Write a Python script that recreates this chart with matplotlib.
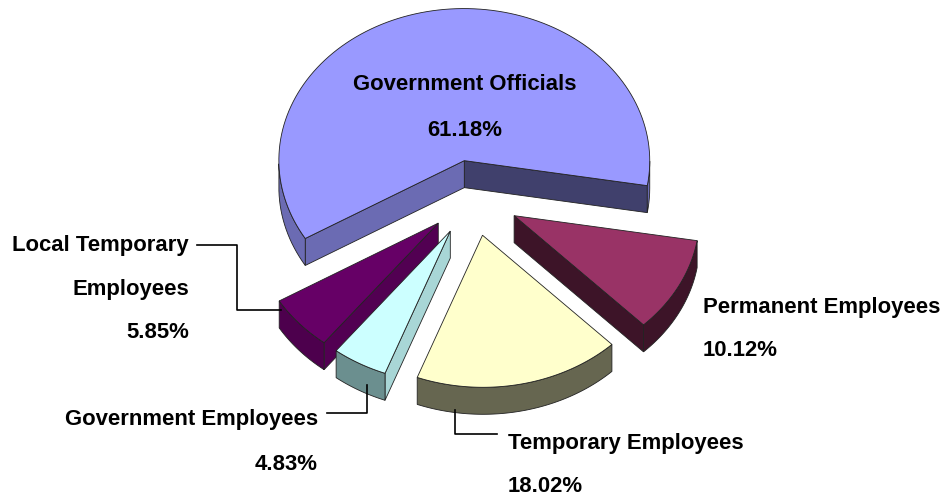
import numpy as np
import matplotlib.pyplot as plt
from matplotlib.patches import Polygon

# slice data, counter-clockwise from the right-hand edge
labels = ['Government Officials', 'Local Temporary Employees', 'Government Employees',
          'Temporary Employees', 'Permanent Employees']
values = [61.18, 5.85, 4.83, 18.02, 10.12]

top_colors = ['#9999ff', '#660066', '#ccffff', '#ffffcc', '#993366']
rim_colors = ['#6b6bb3', '#4d004d', '#6b8f8f', '#666650', '#3d1428']
start_wall = ['#40406c', '#520052', '#6b8f8f', '#666650', '#3d1428']
end_wall = ['#6b6bb3', '#520052', '#a8d6d6', '#666650', '#3d1428']
draw_order = [0, 4, 1, 2, 3]

# projected pie geometry (pixels): centre, axis vectors, explode, depth
C = np.array([473.0, 198.0])
a1 = np.array([183.0, 25.0])
a2 = np.array([30.0, -150.0])
explode = 0.25
depth = 27.0


def rim(t):
    t = np.radians(t)
    return np.outer(np.cos(t), a1) + np.outer(np.sin(t), a2)


fig = plt.figure(figsize=(9.44, 5.0), dpi=100)
ax = fig.add_axes([0, 0, 1, 1])
ax.set_xlim(0, 944)
ax.set_ylim(500, 0)
ax.axis('off')

bounds = np.concatenate([[0], np.cumsum(values) / np.sum(values) * 360])
t_front = np.degrees(np.arctan2(a2[0], a1[0])) + 180
down = np.array([0.0, depth])
ec = dict(edgecolor='#222222', linewidth=0.6)

z = 1
for i in draw_order:
    t1, t2 = bounds[i], bounds[i + 1]
    apex = C + explode * rim([(t1 + t2) / 2])[0]
    ts = np.linspace(t1, t2, 120)
    arc = apex + rim(ts)
    mid = apex + 0.5 * rim([(t1 + t2) / 2])[0]

    # radial walls
    for t, col in [(t1, start_wall[i]), (t2, end_wall[i])]:
        r = apex + rim([t])[0]
        e = r - apex
        m = mid - apex
        side = e[0] * m[1] - e[1] * m[0]
        up = -e[0]
        if np.sign(side) == np.sign(up):
            quad = [apex, r, r + down, apex + down]
            ax.add_patch(Polygon(quad, closed=True, facecolor=col, zorder=z, **ec))
    z += 1

    # outer wall, only the front part
    vis = ((ts - t_front) % 360) < 180
    if vis.any():
        idx = np.where(vis)[0]
        groups = np.split(idx, np.where(np.diff(idx) > 1)[0] + 1)
        for g in groups:
            if len(g) < 2:
                continue
            seg = arc[g]
            poly = np.vstack([seg, (seg + down)[::-1]])
            ax.add_patch(Polygon(poly, closed=True, facecolor=rim_colors[i], zorder=z, **ec))
    z += 1

    # top face
    ax.add_patch(Polygon(np.vstack([apex, arc]), closed=True,
                         facecolor=top_colors[i], zorder=z, **ec))
    z += 1

font = dict(family='Liberation Sans', fontweight='bold', fontsize=15.9, color='black')
pct = [f'{v:.2f}%' for v in values]

ax.text(465, 85, labels[0], ha='center', va='center', zorder=20, **font)
ax.text(465, 130, pct[0], ha='center', va='center', zorder=20, **font)

ax.text(189, 245, 'Local Temporary', ha='right', va='center', **font)
ax.text(189, 290, 'Employees', ha='right', va='center', **font)
ax.text(189, 333, pct[1], ha='right', va='center', **font)

ax.text(318, 420, labels[2], ha='right', va='center', **font)
ax.text(318, 465, pct[2], ha='right', va='center', **font)

ax.text(508, 443, labels[3], ha='left', va='center', **font)
ax.text(508, 487, pct[3], ha='left', va='center', **font)

ax.text(703, 307, labels[4], ha='left', va='center', **font)
ax.text(703, 350, pct[4], ha='left', va='center', **font)

# leader lines
lk = dict(color='black', linewidth=1.2, zorder=20)
ax.plot([197, 237, 237, 281], [245, 245, 310, 310], **lk)
ax.plot([327, 367, 367], [413, 413, 385], **lk)
ax.plot([455, 455, 497], [410, 434, 434], **lk)

fig.savefig('out.png', dpi=100)
